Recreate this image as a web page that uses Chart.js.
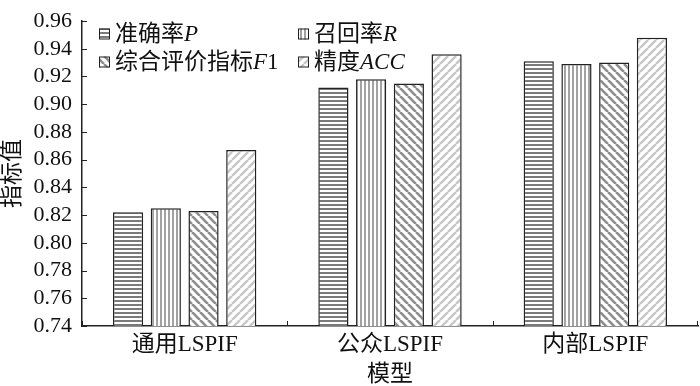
<!DOCTYPE html>
<html>
<head>
<meta charset="utf-8">
<script src="https://cdn.jsdelivr.net/npm/chart.js@4.4.1/dist/chart.umd.min.js"></script>
<style>
  html, body { margin: 0; background: #fff; }
  #wrap { width: 700px; height: 386px; }
</style>
</head>
<body>
<div id="wrap"><canvas id="c"></canvas></div>
<script>
// data
const categories = ['通用LSPIF', '公众LSPIF', '内部LSPIF'];
const seriesNames = ['准确率P', '召回率R', '综合评价指标F1', '精度ACC'];
const precisionP = [0.822, 0.912, 0.931];
const recallR = [0.825, 0.918, 0.929];
const scoreF1 = [0.823, 0.915, 0.930];
const accuracyACC = [0.867, 0.936, 0.948];
const yMin = 0.74, yMax = 0.96, yStep = 0.02;

const SERIF = "'Liberation Serif', 'Noto Sans CJK SC', serif";
const INK = '#222';

// hatch fills
function makePattern(kind, color) {
  const s = (kind === 'h' || kind === 'v') ? 4 : 8;
  const c = document.createElement('canvas');
  c.width = s; c.height = s;
  const g = c.getContext('2d');
  g.fillStyle = '#fff';
  g.fillRect(0, 0, s, s);
  g.fillStyle = color;
  g.strokeStyle = color;
  if (kind === 'h') g.fillRect(0, 0, s, 2);
  else if (kind === 'v') g.fillRect(0, 0, 2, s);
  else {
    g.lineWidth = 2.6;
    g.beginPath();
    for (let k = -1; k <= 1; k++) {
      if (kind === 'f') { g.moveTo(k * s, s); g.lineTo(k * s + s, 0); }
      else { g.moveTo(k * s, 0); g.lineTo(k * s + s, s); }
    }
    g.stroke();
  }
  return g.createPattern(c, 'repeat');
}

const fills = [
  makePattern('h', '#7a7a7a'),
  makePattern('v', '#a2a2a2'),
  makePattern('b', '#8e8e8e'),
  makePattern('f', '#c8c8c8')
];
const values = [precisionP, recallR, scoreF1, accuracyACC];

const datasets = seriesNames.map((name, i) => ({
  label: name,
  data: values[i],
  backgroundColor: fills[i],
  borderColor: INK,
  borderWidth: 1.5,
  barPercentage: 0.8,
  categoryPercentage: 0.735
}));

// legend with italic latin letters, drawn inside the plot
const richLegend = {
  id: 'richLegend',
  afterDatasetsDraw(chart) {
    const { ctx, chartArea } = chart;
    const cols = [chartArea.left + 17, chartArea.left + 216];
    const rows = [chartArea.top + 12.5, chartArea.top + 40.5];
    chart.data.datasets.forEach((ds, i) => {
      const x = cols[i % 2], y = rows[Math.floor(i / 2)];
      ctx.save();
      ctx.fillStyle = ds.backgroundColor;
      ctx.fillRect(x, y - 5, 11, 11);
      ctx.strokeStyle = INK;
      ctx.lineWidth = 1;
      ctx.strokeRect(x + 0.5, y - 4.5, 10, 10);
      let tx = x + 16;
      ctx.textBaseline = 'middle';
      ctx.fillStyle = '#111';
      ds.label.match(/[A-Za-z]+|[^A-Za-z]+/g).forEach(seg => {
        const it = /[A-Za-z]/.test(seg);
        ctx.font = (it ? 'italic ' : '') + '23px ' + SERIF;
        ctx.fillText(seg, tx, y + 1);
        tx += ctx.measureText(seg).width;
      });
      ctx.restore();
    });
  }
};

// tick marks pointing into the plot
const innerTicks = {
  id: 'innerTicks',
  afterDraw(chart) {
    const { ctx, chartArea, scales: { x, y } } = chart;
    ctx.save();
    ctx.strokeStyle = INK;
    ctx.lineWidth = 1;
    ctx.beginPath();
    y.ticks.forEach((t, i) => {
      const py = Math.round(y.getPixelForTick(i)) + 0.5;
      ctx.moveTo(chartArea.left, py);
      ctx.lineTo(chartArea.left + 5, py);
    });
    const n = x.ticks.length;
    for (let i = 0; i <= n; i++) {
      let bx;
      if (i === 0) bx = chartArea.left;
      else if (i === n) bx = chartArea.right - 1;
      else bx = (x.getPixelForTick(i - 1) + x.getPixelForTick(i)) / 2;
      bx = Math.round(bx) + 0.5;
      ctx.moveTo(bx, chartArea.bottom);
      ctx.lineTo(bx, chartArea.bottom - 5);
    }
    ctx.stroke();
    ctx.restore();
  }
};

new Chart(document.getElementById('c'), {
  type: 'bar',
  data: { labels: categories, datasets: datasets },
  options: {
    responsive: true,
    maintainAspectRatio: false,
    animation: false,
    layout: { padding: { top: 15.5, right: 2, left: 0, bottom: 0 } },
    plugins: {
      legend: { display: false },
      tooltip: { enabled: false }
    },
    scales: {
      x: {
        grid: { display: false, drawTicks: false },
        border: { display: true, color: INK, width: 1.5 },
        ticks: { color: '#111', font: { family: SERIF, size: 23 }, padding: 5, maxRotation: 0 },
        title: { display: true, text: '模型', color: '#111', font: { family: SERIF, size: 23, lineHeight: 1 }, padding: { top: 0, bottom: 0 } },
        afterFit(s) { s.height = 60; }
      },
      y: {
        min: yMin,
        max: yMax,
        grid: { display: false, drawTicks: false },
        border: { display: true, color: INK, width: 1.5 },
        ticks: {
          stepSize: yStep,
          autoSkip: false,
          color: '#111',
          font: { family: SERIF, size: 22, lineHeight: 1 },
          padding: 10,
          callback: v => Number(v).toFixed(2)
        },
        title: { display: true, text: '指标值', color: '#111', font: { family: SERIF, size: 23, lineHeight: 1 }, padding: { top: 1, bottom: 0 } },
        afterFit(s) { s.width = 82; }
      }
    }
  },
  plugins: [richLegend, innerTicks]
});
</script>
</body>
</html>
